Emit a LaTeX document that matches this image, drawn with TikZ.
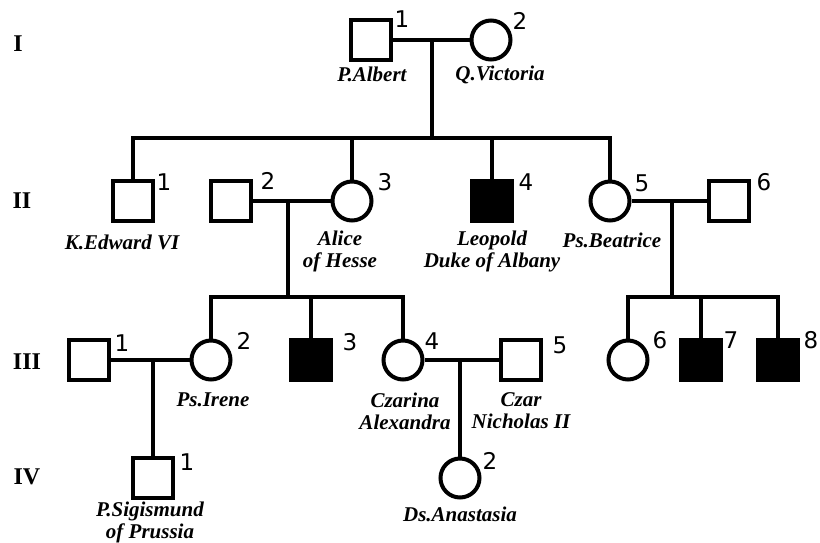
\documentclass[tikz,border=0pt]{standalone}
\usepackage{fontspec}
\setmainfont{Liberation Serif}
\newfontfamily\numfont{DejaVu Sans}
\begin{document}
\begin{tikzpicture}[x=1pt,y=-1pt, line width=4pt,
  male/.style={draw, rectangle, minimum size=40pt, inner sep=0pt},
  female/.style={draw, circle, minimum size=39pt, inner sep=0pt},
  aff/.style={fill=black},
  nm/.style={font=\fontsize{21}{22}\selectfont\bfseries\itshape, align=center, inner sep=0pt},
  num/.style={font=\numfont\fontsize{23}{23}\selectfont, inner sep=0pt},
  gen/.style={font=\fontsize{24}{24}\selectfont\bfseries, inner sep=0pt}]
\useasboundingbox (0,0) rectangle (820,543);
% generation labels
\node[gen] (gI) at (18,44) {I};
\node[gen] (gII) at (22,201) {II};
\node[gen] (gIII) at (27,362) {III};
\node[gen] (gIV) at (27,477) {IV};
% Generation I
\node[male] (a) at (371,40) {};
\node[num] (an) at (402,19) {1};
\node[nm] (al) at (372,74) {P.Albert};
\node[female] (v) at (491,40) {};
\node[num] (vn) at (520,21) {2};
\node[nm] (vl) at (500,75) {Q.Victoria};
\coordinate (m1) at (432,40);
\coordinate (s1) at (432,138);
\draw (a) -- (v);
\draw (m1) -- (s1);
% Generation II
\node[male] (e) at (133,201) {};
\node[num] (en) at (164,182) {1};
\node[nm] (el) at (122,242) {K.Edward VI};
\node[male] (h2) at (231,201) {};
\node[num] (h2n) at (268,181) {2};
\node[female] (alice) at (352,201) {};
\node[num] (alicen) at (385,182) {3};
\node[nm] (alicel) at (340,251) {Alice\\of Hesse};
\node[male,aff] (leo) at (492,201) {};
\node[num] (leon) at (526,182) {4};
\node[nm] (leol) at (492,251) {Leopold\\Duke of Albany};
\node[female] (bea) at (610,201) {};
\node[num] (bean) at (642,183) {5};
\node[nm] (beal) at (612,240) {Ps.Beatrice};
\node[male] (h6) at (729,201) {};
\node[num] (h6n) at (764,182) {6};
\draw (e) |- (s1) -| (bea);
\draw (alice) -- (alice |- s1);
\draw (leo) -- (leo |- s1);
\draw (h2) -- (alice);
\coordinate (m2) at (288,201);
\coordinate (s2) at (288,297);
\draw (m2) -- (s2);
\draw (bea) -- (h6);
\coordinate (m3) at (672,201);
\coordinate (s3) at (672,297);
\draw (m3) -- (s3);
% Generation III
\node[male] (h31) at (89,360) {};
\node[num] (h31n) at (122,343) {1};
\node[female] (irene) at (211,360) {};
\node[num] (irenen) at (244,341) {2};
\node[nm] (irenel) at (213,400) {Ps.Irene};
\node[male,aff] (g33) at (311,360) {};
\node[num] (g33n) at (350,342) {3};
\node[female] (alex) at (403,360) {};
\node[num] (alexn) at (432,341) {4};
\node[nm] (alexl) at (405,411) {Czarina\\Alexandra};
\node[male] (czar) at (521,360) {};
\node[num] (czarn) at (560,345) {5};
\node[nm] (czarl) at (521,411) {Czar\\Nicholas II};
\node[female] (g36) at (628,360) {};
\node[num] (g36n) at (660,340) {6};
\node[male,aff] (g37) at (701,360) {};
\node[num] (g37n) at (731,340) {7};
\node[male,aff] (g38) at (778,360) {};
\node[num] (g38n) at (811,340) {8};
\draw (irene) |- (s2) -| (alex);
\draw (g33) -- (g33 |- s2);
\draw (g36) |- (s3) -| (g38);
\draw (g37) -- (g37 |- s3);
\draw (h31) -- (irene);
\draw (alex) -- (czar);
\coordinate (m4) at (153,360);
\coordinate (m5) at (460,360);
% Generation IV
\node[male] (iv1) at (153,478) {};
\node[num] (iv1n) at (187,462) {1};
\node[nm] (iv1l) at (150,522) {P.Sigismund\\of Prussia};
\node[female] (iv2) at (460,478) {};
\node[num] (iv2n) at (490,461) {2};
\node[nm] (iv2l) at (460,514) {Ds.Anastasia};
\draw (m4) -- (iv1);
\draw (m5) -- (iv2);
\end{tikzpicture}
\end{document}
